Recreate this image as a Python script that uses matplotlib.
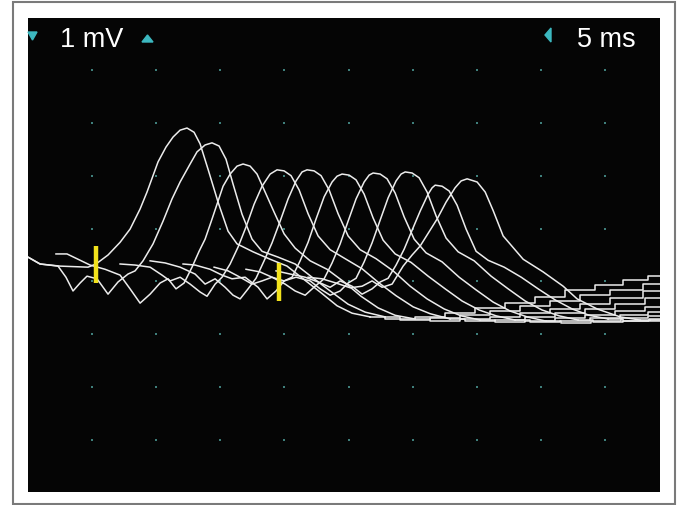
"""
Oscilloscope overlay: ten evoked responses, 5 ms/div, 1 mV/div.
"""
import matplotlib
matplotlib.use("Agg")
import matplotlib.pyplot as plt
from matplotlib.patches import Rectangle, Polygon

# --- scale ---
MS_PER_DIV = 5
MV_PER_DIV = 1
grid_t = [5, 10, 15, 20, 25, 30, 35, 40, 45]
grid_v = [-3, -2, -1, 0, 1, 2, 3, 4]
t_range = (0, 49.28)
v_range = (-3.98, 4.98)
volt_label = "1 mV"
time_label = "5 ms"

# --- traces: time (ms) / amplitude (mV) ---
main_t = [
    [0, 0.94, 2.50, 4.68, 5.30, 6.24, 7.18, 7.96, 8.74, 9.28, 10.14, 10.76, 11.31, 11.86, 12.40,
     12.95, 13.42, 14.04, 14.82, 15.60, 16.30, 17.55, 18.88, 20.20, 21.45, 22.78, 24.10, 25.27, 26.68],
    [0, 0.94, 2.34, 2.96, 3.51, 4.06, 4.60, 5.38, 6.24, 7.02, 7.80, 8.35, 8.97, 9.75, 10.53, 11.23,
     11.86, 12.64, 13.18, 13.81, 14.35, 14.90, 15.44, 15.99, 16.69, 17.47, 18.25, 19.50, 20.83,
     22.15, 23.56, 24.96, 26.29, 27.85],
    [2.18, 3.04, 3.90, 4.84, 6.01, 7.18, 7.96, 8.74, 9.52, 10.30, 10.92, 11.54, 12.17, 12.79, 13.34,
     13.81, 14.35, 15.21, 15.76, 16.30, 16.77, 17.32, 17.86, 18.49, 19.19, 19.97, 20.83, 22.00,
     23.32, 24.65, 25.97, 27.30, 28.63, 30.19],
    [7.18, 8.35, 9.52, 10.45, 11.08, 11.86, 12.64, 13.42, 13.96, 14.59, 15.13, 15.76, 16.38, 17.00,
     17.63, 18.25, 18.88, 19.42, 19.97, 20.51, 21.14, 21.84, 22.62, 23.56, 24.73, 26.05, 27.38,
     28.70, 30.03, 31.36, 32.92],
    [9.52, 10.69, 11.86, 13.03, 13.81, 14.59, 15.37, 15.99, 16.54, 17.16, 17.78, 18.41, 19.03, 19.66,
     20.28, 20.90, 21.37, 21.76, 22.31, 22.85, 23.48, 24.18, 24.96, 25.90, 27.14, 28.47, 29.80,
     31.12, 32.45, 33.77, 35.26],
    [12.09, 13.03, 14.20, 15.13, 15.91, 16.93, 17.94, 18.64, 19.34, 19.97, 20.59, 21.22, 21.84, 22.46,
     23.09, 23.71, 24.10, 24.49, 25.04, 25.58, 26.21, 26.91, 27.69, 28.63, 29.87, 31.20, 32.53,
     33.85, 35.18, 36.50, 37.99],
    [14.51, 15.60, 16.54, 17.47, 18.25, 19.03, 20.05, 20.83, 21.61, 22.39, 23.09, 23.71, 24.34, 24.96,
     25.58, 26.21, 26.60, 26.91, 27.46, 28.00, 28.63, 29.33, 30.11, 31.04, 32.29, 33.62, 34.94,
     36.27, 37.60, 38.92, 40.40],
    [17.00, 18.10, 19.03, 19.97, 20.90, 22.00, 22.78, 23.56, 24.34, 24.96, 25.58, 26.21, 26.83, 27.46,
     28.08, 28.70, 29.09, 29.41, 29.95, 30.50, 31.12, 31.82, 32.60, 33.54, 34.79, 36.11, 37.44,
     38.77, 40.09, 41.42, 42.90],
    [19.34, 20.44, 21.61, 22.62, 23.56, 24.34, 25.27, 26.05, 26.83, 27.46, 28.08, 28.70, 29.33, 29.95,
     30.58, 31.20, 31.51, 31.75, 32.29, 32.84, 33.46, 34.16, 34.94, 35.88, 37.13, 38.46, 39.78,
     41.11, 42.43, 43.76, 45.24],
    [21.84, 22.93, 24.02, 25.12, 26.05, 26.83, 27.61, 28.39, 29.25, 29.95, 30.58, 31.20, 31.90, 32.60,
     33.30, 33.77, 34.24, 35.02, 35.65, 36.27, 37.05, 38.61, 40.17, 41.73, 42.82, 44.38, 46.18, 47.74],
]
main_v = [
    [0.46, 0.33, 0.29, 0.27, 0.33, 0.50, 0.74, 0.99, 1.37, 1.69, 2.26, 2.54, 2.73, 2.86, 2.90,
     2.82, 2.60, 2.12, 1.50, 0.95, 0.71, 0.56, 0.42, 0.29, 0.05, -0.20, -0.46, -0.60, -0.67],
    [0.46, 0.33, 0.29, 0.08, -0.18, -0.03, 0.10, 0.05, -0.24, -0.01, 0.14, 0.20, 0.39, 0.71, 1.14, 1.56,
     1.88, 2.22, 2.45, 2.58, 2.62, 2.56, 2.31, 1.84, 1.27, 0.80, 0.57, 0.46, 0.33,
     0.08, -0.18, -0.43, -0.58, -0.67],
    [0.52, 0.52, 0.42, 0.31, 0.23, 0.12, -0.14, -0.41, -0.24, -0.03, 0.05, -0.14, -0.03, 0.27, 0.57,
     0.80, 1.18, 1.80, 2.03, 2.18, 2.22, 2.18, 2.03, 1.69, 1.31, 0.90, 0.63, 0.39,
     0.23, -0.01, -0.28, -0.50, -0.64, -0.71],
    [0.33, 0.31, 0.27, 0.12, 0.01, 0.08, -0.05, -0.20, -0.28, -0.05, 0.08, 0.33, 0.65, 1.03,
     1.46, 1.80, 2.03, 2.11, 2.09, 2.00, 1.73, 1.28, 0.86, 0.60, 0.43, 0.24, -0.03,
     -0.27, -0.48, -0.61, -0.71],
    [0.39, 0.35, 0.27, 0.14, -0.05, 0.05, -0.11, -0.26, -0.33, -0.14, 0.06, 0.39, 0.73, 1.14,
     1.56, 1.90, 2.07, 2.11, 2.09, 2.00, 1.73, 1.28, 0.86, 0.60, 0.43, 0.20, -0.09,
     -0.33, -0.52, -0.65, -0.73],
    [0.33, 0.31, 0.23, 0.12, 0.05, 0.08, -0.11, -0.33, -0.18, 0.01, 0.08, 0.39, 0.74, 1.18,
     1.60, 1.88, 1.99, 2.03, 2.01, 1.92, 1.65, 1.20, 0.78, 0.52, 0.36, 0.10, -0.14,
     -0.37, -0.54, -0.65, -0.73],
    [0.27, 0.20, 0.08, -0.05, 0.01, 0.08, -0.05, -0.18, -0.26, -0.09, 0.05, 0.35, 0.71, 1.14,
     1.56, 1.88, 2.01, 2.05, 2.03, 1.94, 1.67, 1.22, 0.80, 0.54, 0.37, 0.08, -0.16,
     -0.39, -0.56, -0.67, -0.75],
    [0.23, 0.18, 0.08, 0.01, 0.08, 0.01, -0.14, -0.26, -0.18, -0.03, 0.06, 0.37, 0.73, 1.16,
     1.58, 1.90, 2.03, 2.07, 2.05, 1.96, 1.69, 1.24, 0.82, 0.56, 0.39, 0.10, -0.14,
     -0.37, -0.54, -0.65, -0.73],
    [0.20, 0.14, 0.08, -0.01, -0.11, 0.01, -0.09, -0.24, -0.14, -0.01, 0.06, 0.31, 0.61, 0.97,
     1.33, 1.65, 1.77, 1.82, 1.80, 1.71, 1.44, 0.99, 0.57, 0.40, 0.27, 0.08, -0.14,
     -0.35, -0.52, -0.64, -0.71],
    [0.08, 0.05, -0.03, -0.12, -0.09, 0.01, -0.11, -0.05, 0.29, 0.50, 0.67, 0.91, 1.18, 1.50,
     1.77, 1.90, 1.94, 1.88, 1.69, 1.34, 0.86, 0.42, 0.18, -0.09, -0.33, -0.52, -0.67, -0.73],
]
# slow recovery at the end of each sweep (quantised, drawn as steps)
tail_t = [
    [26.68, 29.02, 31.36, 33.70, 36.04, 38.38, 40.72, 43.06, 45.40, 47.35, 49.30],
    [27.85, 30.19, 32.53, 34.87, 37.21, 39.55, 41.89, 44.23, 46.57, 49.30],
    [30.19, 32.53, 34.87, 37.21, 39.55, 41.89, 44.23, 46.57, 49.30],
    [32.92, 35.26, 37.60, 39.94, 42.28, 44.62, 46.96, 49.30],
    [35.26, 37.60, 39.94, 42.28, 44.62, 46.96, 49.30],
    [37.99, 40.33, 42.67, 45.01, 47.35, 49.30],
    [40.40, 42.74, 45.08, 47.42, 49.30],
    [42.90, 45.24, 47.58, 49.30],
    [45.24, 47.58, 49.30],
    [47.74, 49.30],
]
tail_v = [
    [-0.67, -0.71, -0.67, -0.60, -0.50, -0.41, -0.29, -0.16, -0.07, 0.03, 0.10],
    [-0.67, -0.73, -0.69, -0.64, -0.56, -0.46, -0.37, -0.26, -0.16, -0.05],
    [-0.71, -0.75, -0.71, -0.67, -0.60, -0.52, -0.43, -0.31, -0.18],
    [-0.71, -0.75, -0.73, -0.67, -0.60, -0.52, -0.43, -0.31],
    [-0.73, -0.77, -0.75, -0.69, -0.64, -0.56, -0.48],
    [-0.73, -0.77, -0.75, -0.69, -0.64, -0.58],
    [-0.75, -0.79, -0.75, -0.69, -0.65],
    [-0.73, -0.77, -0.75, -0.71],
    [-0.71, -0.75, -0.73],
    [-0.73, -0.75],
]
# cursors
cursor_t = [5.34, 19.61]
cursor_top = [0.67, 0.35]
cursor_bot = [-0.03, -0.37]

W, H = 679, 506
fig = plt.figure(figsize=(W / 100, H / 100), dpi=100, facecolor="white")

# screen
ax = fig.add_axes([28 / W, 13 / H, 632 / W, 474 / H], facecolor="#050505")
ax.set_xlim(*t_range); ax.set_ylim(*v_range)
ax.set_xticks([]); ax.set_yticks([])
for s in ax.spines.values():
    s.set_visible(False)

gx = [t for t in grid_t for _ in grid_v]
gy = [v for _ in grid_t for v in grid_v]
ax.scatter(gx, gy, s=3, marker="s", color="#3f7f7b", linewidths=0, zorder=1)

for t, v in zip(main_t, main_v):
    ax.plot(t, v, color="#ececec", lw=1.1, zorder=3)
for t, v in zip(tail_t, tail_v):
    ax.plot(t, v, color="#ececec", lw=1.1, drawstyle="steps-mid", zorder=3)

ax.vlines(cursor_t, cursor_bot, cursor_top, color="#f2e21c", lw=3.2, zorder=4)

# overlay in pixel units for the frame and screen annotations
ov = fig.add_axes([0, 0, 1, 1], facecolor="none")
ov.set_xlim(0, W); ov.set_ylim(H, 0); ov.set_axis_off()
ov.add_patch(Rectangle((13, 3), 662, 502, fill=False, edgecolor="#7a7a7a", lw=1.5))

fam = ["Liberation Sans Narrow", "Liberation Sans", "DejaVu Sans"]
ov.text(60, 47, volt_label, color="white", fontsize=19.5, family=fam, va="baseline", ha="left")
ov.text(577, 47, time_label, color="white", fontsize=19.5, family=fam, va="baseline", ha="left")

cyan = "#3cb8c0"
ov.add_patch(Polygon([(28, 33), (37, 33), (32.5, 41)], closed=True, color=cyan))
ov.add_patch(Polygon([(142, 43), (153, 43), (147.5, 36)], closed=True, color=cyan))
ov.add_patch(Polygon([(545, 36), (551, 29), (551, 43)], closed=True, color=cyan))

fig.savefig("out.png", dpi=100, facecolor="white")
